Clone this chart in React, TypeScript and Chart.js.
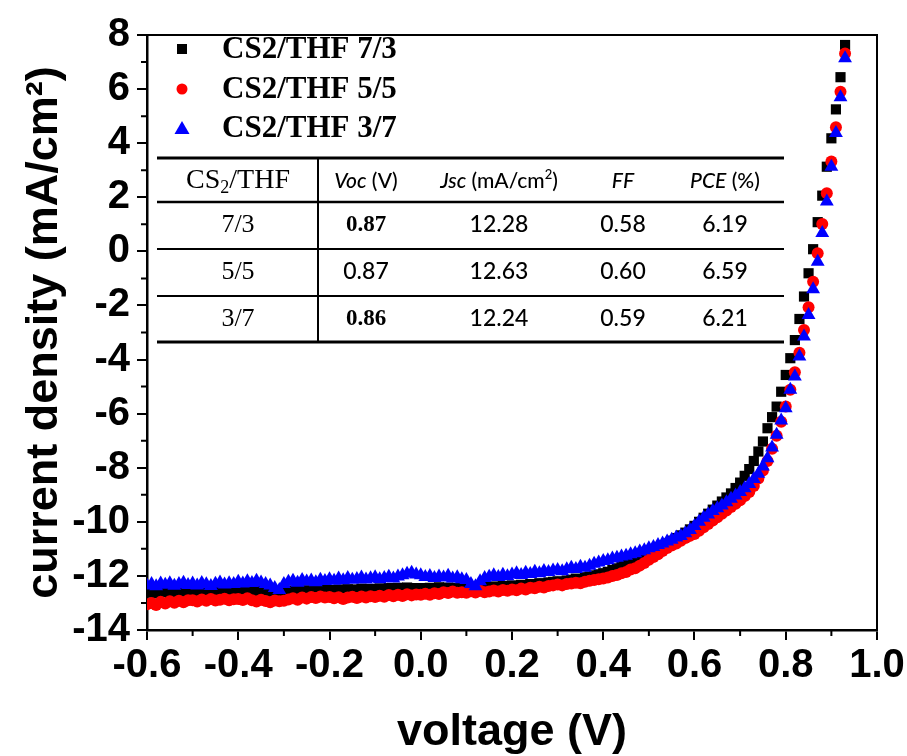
import React, { useEffect, useRef } from "react";
import { Chart, registerables } from "chart.js";

Chart.register(...registerables);

// ---- data ----
const voltage = [
  -0.60, -0.59, -0.58, -0.57, -0.56, -0.55, -0.54, -0.53, -0.52, -0.51,
  -0.50, -0.49, -0.48, -0.47, -0.46, -0.45, -0.44, -0.43, -0.42, -0.41,
  -0.40, -0.39, -0.38, -0.37, -0.36, -0.35, -0.34, -0.33, -0.32, -0.31,
  -0.30, -0.29, -0.28, -0.27, -0.26, -0.25, -0.24, -0.23, -0.22, -0.21,
  -0.20, -0.19, -0.18, -0.17, -0.16, -0.15, -0.14, -0.13, -0.12, -0.11,
  -0.10, -0.09, -0.08, -0.07, -0.06, -0.05, -0.04, -0.03, -0.02, -0.01,
  0.00, 0.01, 0.02, 0.03, 0.04, 0.05, 0.06, 0.07, 0.08, 0.09,
  0.10, 0.11, 0.12, 0.13, 0.14, 0.15, 0.16, 0.17, 0.18, 0.19,
  0.20, 0.21, 0.22, 0.23, 0.24, 0.25, 0.26, 0.27, 0.28, 0.29,
  0.30, 0.31, 0.32, 0.33, 0.34, 0.35, 0.36, 0.37, 0.38, 0.39,
  0.40, 0.41, 0.42, 0.43, 0.44, 0.45, 0.46, 0.47, 0.48, 0.49,
  0.50, 0.51, 0.52, 0.53, 0.54, 0.55, 0.56, 0.57, 0.58, 0.59,
  0.60, 0.61, 0.62, 0.63, 0.64, 0.65, 0.66, 0.67, 0.68, 0.69,
  0.70, 0.71, 0.72, 0.73, 0.74, 0.75, 0.76, 0.77, 0.78, 0.79,
  0.80, 0.81, 0.82, 0.83, 0.84, 0.85, 0.86, 0.87, 0.88, 0.89,
  0.90, 0.91, 0.92, 0.93,
];

// CS2/THF 7/3 (black squares)
const jBlack = [
  -12.62, -12.58, -12.65, -12.60, -12.56, -12.63, -12.59, -12.61, -12.57, -12.60,
  -12.58, -12.62, -12.55, -12.60, -12.57, -12.61, -12.54, -12.59, -12.56, -12.58,
  -12.55, -12.58, -12.53, -12.57, -12.60, -12.56, -12.62, -12.65, -12.60, -12.63,
  -12.57, -12.54, -12.58, -12.52, -12.56, -12.53, -12.57, -12.51, -12.55, -12.52,
  -12.52, -12.55, -12.50, -12.54, -12.49, -12.53, -12.50, -12.47, -12.52, -12.48,
  -12.50, -12.46, -12.49, -12.45, -12.48, -12.44, -12.47, -12.43, -12.46, -12.45,
  -12.45, -12.48, -12.44, -12.47, -12.42, -12.46, -12.43, -12.47, -12.44, -12.46,
  -12.45, -12.48, -12.50, -12.44, -12.40, -12.43, -12.39, -12.42, -12.37, -12.40,
  -12.35, -12.38, -12.33, -12.36, -12.30, -12.32, -12.27, -12.29, -12.24, -12.22,
  -12.20, -12.22, -12.17, -12.14, -12.10, -12.12, -12.05, -12.02, -11.98, -11.94,
  -11.90, -11.85, -11.78, -11.72, -11.64, -11.56, -11.48, -11.40, -11.32, -11.22,
  -11.10, -11.02, -10.95, -10.88, -10.80, -10.70, -10.60, -10.50, -10.40, -10.28,
  -10.15, -10.00, -9.85, -9.70, -9.55, -9.40, -9.25, -9.10, -8.95, -8.75,
  -8.55, -8.30, -8.05, -7.75, -7.40, -7.03, -6.54, -6.13, -5.74, -5.19,
  -4.57, -3.95, -3.28, -2.50, -1.67, -0.81, 0.08, 1.08, 2.06, 3.13,
  4.18, 5.25, 6.44, 7.63,
];

// CS2/THF 5/5 (red circles)
const jRed = [
  -13.05, -13.00, -13.08, -12.96, -13.02, -12.94, -12.99, -12.92, -12.97, -12.90,
  -12.90, -12.95, -12.87, -12.92, -12.85, -12.91, -12.88, -12.84, -12.90, -12.86,
  -12.85, -12.89, -12.83, -12.90, -12.95, -12.88, -12.93, -12.97, -12.91, -12.94,
  -12.92, -12.87, -12.83, -12.88, -12.80, -12.84, -12.78, -12.82, -12.76, -12.80,
  -12.78, -12.83, -12.79, -12.85, -12.80, -12.77, -12.82, -12.76, -12.80, -12.75,
  -12.78, -12.73, -12.77, -12.71, -12.75, -12.70, -12.74, -12.68, -12.72, -12.69,
  -12.70, -12.66, -12.70, -12.64, -12.67, -12.60, -12.63, -12.58, -12.62, -12.60,
  -12.62, -12.57, -12.61, -12.55, -12.60, -12.58, -12.54, -12.58, -12.52, -12.55,
  -12.50, -12.53, -12.47, -12.50, -12.44, -12.46, -12.40, -12.43, -12.37, -12.35,
  -12.32, -12.35, -12.30, -12.28, -12.25, -12.27, -12.22, -12.18, -12.15, -12.12,
  -12.10, -12.06, -12.00, -11.97, -11.90, -11.86, -11.76, -11.72, -11.62, -11.52,
  -11.40, -11.30, -11.20, -11.08, -10.97, -10.88, -10.80, -10.70, -10.60, -10.52,
  -10.45, -10.33, -10.20, -10.08, -9.95, -9.83, -9.70, -9.58, -9.45, -9.33,
  -9.20, -9.05, -8.90, -8.68, -8.40, -8.10, -7.75, -7.30, -6.82, -6.30,
  -5.74, -5.12, -4.47, -3.75, -2.91, -2.07, -1.12, -0.07, 1.01, 2.15,
  3.32, 4.59, 5.90, 7.32,
];

// CS2/THF 3/7 (blue triangles)
const jBlue = [
  -12.35, -12.30, -12.38, -12.28, -12.33, -12.27, -12.36, -12.30, -12.25, -12.34,
  -12.28, -12.35, -12.26, -12.31, -12.37, -12.29, -12.24, -12.32, -12.27, -12.30,
  -12.22, -12.28, -12.20, -12.26, -12.18, -12.24, -12.30, -12.35, -12.45, -12.52,
  -12.30, -12.22, -12.18, -12.25, -12.15, -12.21, -12.17, -12.23, -12.14, -12.19,
  -12.12, -12.18, -12.10, -12.16, -12.08, -12.14, -12.11, -12.06, -12.13, -12.09,
  -12.05, -12.12, -12.08, -12.03, -12.10, -12.02, -11.98, -11.92, -11.88, -11.95,
  -11.98, -12.04, -12.00, -12.08, -12.02, -12.06, -11.99, -12.10, -12.05, -12.12,
  -12.15, -12.30, -12.38, -12.20, -12.08, -12.03, -11.98, -12.04, -11.96, -12.01,
  -11.95, -11.90, -11.97, -11.88, -11.93, -11.85, -11.90, -11.82, -11.86, -11.80,
  -11.78, -11.83, -11.75, -11.70, -11.74, -11.66, -11.70, -11.62, -11.55, -11.50,
  -11.45, -11.42, -11.36, -11.33, -11.28, -11.25, -11.20, -11.16, -11.10, -11.05,
  -10.98, -10.93, -10.86, -10.80, -10.73, -10.66, -10.58, -10.52, -10.42, -10.30,
  -10.15, -10.00, -9.85, -9.73, -9.60, -9.50, -9.40, -9.28, -9.15, -9.03,
  -8.90, -8.76, -8.60, -8.42, -8.22, -7.95, -7.65, -7.25, -6.78, -6.25,
  -5.80, -5.12, -4.63, -3.89, -3.15, -2.35, -1.40, -0.38, 0.68, 1.84,
  3.13, 4.38, 5.70, 7.14,
];

const seriesLabels = ["CS2/THF 7/3", "CS2/THF 5/5", "CS2/THF 3/7"];
const seriesColors = ["#000000", "#ff0000", "#0000ff"];

const yMinorTicks = [7, 5, 3, 1, -1, -3, -5, -7, -9, -11, -13];
const xMinorTicks = [-0.5, -0.3, -0.1, 0.1, 0.3, 0.5, 0.7, 0.9];

const tableRows = [
  ["7/3", "0.87", "12.28", "0.58", "6.19"],
  ["5/5", "0.87", "12.63", "0.60", "6.59"],
  ["3/7", "0.86", "12.24", "0.59", "6.21"],
];

const SANS = '"Liberation Sans", Arial, Helvetica, sans-serif';
const SERIF = '"Liberation Serif", "Times New Roman", serif';
const TSANS = 'Lato, "Open Sans", "Noto Sans", sans-serif';

type Part = { t: string; f: string; dy?: number };

function drawRich(ctx: CanvasRenderingContext2D, parts: Part[], cx: number, cy: number) {
  let total = 0;
  for (const p of parts) {
    ctx.font = p.f;
    total += ctx.measureText(p.t).width;
  }
  let x = cx - total / 2;
  ctx.textAlign = "left";
  ctx.textBaseline = "middle";
  for (const p of parts) {
    ctx.font = p.f;
    ctx.fillText(p.t, x, cy + (p.dy || 0));
    x += ctx.measureText(p.t).width;
  }
}

const decoPlugin = {
  id: "deco",
  afterDraw(chart: any) {
    const { ctx, chartArea: a, scales } = chart;
    const xs = scales.x;
    const ys = scales.y;
    ctx.save();
    ctx.strokeStyle = "#000";
    ctx.fillStyle = "#000";

    // frame (top and right)
    ctx.lineWidth = 2;
    ctx.beginPath();
    ctx.moveTo(a.left, a.top);
    ctx.lineTo(a.right, a.top);
    ctx.lineTo(a.right, a.bottom);
    ctx.stroke();

    // minor ticks
    ctx.lineWidth = 2;
    ctx.beginPath();
    for (const v of yMinorTicks) {
      const py = ys.getPixelForValue(v);
      ctx.moveTo(a.left - 6, py);
      ctx.lineTo(a.left, py);
    }
    for (const v of xMinorTicks) {
      const px = xs.getPixelForValue(v);
      ctx.moveTo(px, a.bottom);
      ctx.lineTo(px, a.bottom + 6);
    }
    ctx.stroke();

    // legend
    const legX = 182;
    const legY = [49, 89, 128];
    ctx.fillStyle = seriesColors[0];
    ctx.fillRect(legX - 5, legY[0] - 5, 10, 10);
    ctx.fillStyle = seriesColors[1];
    ctx.beginPath();
    ctx.arc(legX, legY[1], 5.5, 0, Math.PI * 2);
    ctx.fill();
    ctx.fillStyle = seriesColors[2];
    ctx.beginPath();
    ctx.moveTo(legX, legY[2] - 7);
    ctx.lineTo(legX + 7.5, legY[2] + 6);
    ctx.lineTo(legX - 7.5, legY[2] + 6);
    ctx.closePath();
    ctx.fill();
    ctx.fillStyle = "#000";
    ctx.font = `bold 31px ${SERIF}`;
    ctx.textAlign = "left";
    ctx.textBaseline = "middle";
    seriesLabels.forEach((s, i) => ctx.fillText(s, 222, legY[i] + 1));

    // table
    const tl = 157, tr = 784;
    const lines = [158, 202, 249, 296, 342];
    const widths = [3, 2.5, 2, 2, 3];
    lines.forEach((ly, i) => {
      ctx.lineWidth = widths[i];
      ctx.beginPath();
      ctx.moveTo(tl, ly);
      ctx.lineTo(tr, ly);
      ctx.stroke();
    });
    ctx.lineWidth = 2;
    ctx.beginPath();
    ctx.moveTo(318, lines[0]);
    ctx.lineTo(318, lines[4]);
    ctx.stroke();

    const cols = [238, 366, 499, 623, 725];
    const hy = 181;
    const hs = 21;
    const sansN = `500 ${hs}px ${TSANS}`;
    const sansI = `italic 500 ${hs}px ${TSANS}`;
    drawRich(ctx, [
      { t: "CS", f: `28px ${SERIF}` },
      { t: "2", f: `18px ${SERIF}`, dy: 7 },
      { t: "/THF", f: `28px ${SERIF}` },
    ], cols[0], hy);
    drawRich(ctx, [{ t: "Voc", f: sansI }, { t: " (V)", f: sansN }], cols[1], hy);
    drawRich(ctx, [
      { t: "Jsc", f: sansI },
      { t: " (mA/cm", f: sansN },
      { t: "2", f: `500 13px ${TSANS}`, dy: -6 },
      { t: ")", f: sansN },
    ], cols[2], hy);
    drawRich(ctx, [{ t: "FF", f: sansI }], cols[3], hy);
    drawRich(ctx, [{ t: "PCE", f: sansI }, { t: " (%)", f: sansN }], cols[4], hy);

    const rowY = [225, 272, 319];
    tableRows.forEach((row, r) => {
      row.forEach((cell, c) => {
        let f = `500 23px ${TSANS}`;
        if (c === 0) f = `26px ${SERIF}`;
        else if (c === 1 && r !== 1) f = `bold 23px ${SERIF}`;
        drawRich(ctx, [{ t: cell, f }], cols[c], rowY[r]);
      });
    });

    ctx.restore();
  },
};

export default function App() {
  const ref = useRef<HTMLCanvasElement | null>(null);

  useEffect(() => {
    document.body.style.margin = "0";
    const canvas = ref.current;
    if (!canvas) return;
    const mk = (arr: number[]) => voltage.map((v, i) => ({ x: v, y: arr[i] }));
    const tickFont = { family: SANS, size: 40, weight: "bold" as const };
    const titleFont = { family: SANS, size: 45, weight: "bold" as const, lineHeight: 1 };
    const chart = new Chart(canvas, {
      type: "scatter",
      data: {
        datasets: [
          {
            label: seriesLabels[0],
            data: mk(jBlack),
            pointStyle: "rect",
            pointRadius: 7.2,
            backgroundColor: seriesColors[0],
            borderColor: seriesColors[0],
            borderWidth: 0,
            order: 3,
          },
          {
            label: seriesLabels[1],
            data: mk(jRed),
            pointStyle: "circle",
            pointRadius: 6,
            backgroundColor: seriesColors[1],
            borderColor: seriesColors[1],
            borderWidth: 0,
            order: 2,
          },
          {
            label: seriesLabels[2],
            data: mk(jBlue),
            pointStyle: "triangle",
            pointRadius: 8,
            backgroundColor: seriesColors[2],
            borderColor: seriesColors[2],
            borderWidth: 0,
            order: 1,
          },
        ],
      },
      options: {
        responsive: false,
        animation: false,
        events: [],
        layout: { padding: { top: 35, right: 30, left: 0, bottom: 0 } },
        plugins: { legend: { display: false }, tooltip: { enabled: false } },
        scales: {
          x: {
            type: "linear",
            min: -0.6,
            max: 1.0,
            afterFit: (s: any) => {
              s.height = 126;
            },
            ticks: {
              stepSize: 0.2,
              autoSkip: false,
              maxRotation: 0,
              padding: 2,
              color: "#000",
              font: tickFont,
              callback: (v: any) => (Math.abs(Number(v)) < 1e-9 ? "0.0" : Number(v).toFixed(1)),
            },
            grid: { drawOnChartArea: false, drawTicks: true, tickLength: 10, color: "#000", lineWidth: 2 },
            border: { display: true, color: "#000", width: 2.5 },
            title: {
              display: true,
              text: "voltage (V)",
              color: "#000",
              font: titleFont,
              padding: { top: 0, bottom: 1 },
            },
          },
          y: {
            type: "linear",
            min: -14,
            max: 8,
            afterFit: (s: any) => {
              s.width = 147;
            },
            ticks: {
              stepSize: 2,
              autoSkip: false,
              padding: 7,
              color: "#000",
              font: tickFont,
            },
            grid: { drawOnChartArea: false, drawTicks: true, tickLength: 10, color: "#000", lineWidth: 2 },
            border: { display: true, color: "#000", width: 2.5 },
            title: {
              display: true,
              text: "current density (mA/cm²)",
              color: "#000",
              font: titleFont,
              padding: { top: 22, bottom: 0 },
            },
          },
        },
      },
      plugins: [decoPlugin],
    } as any);
    return () => chart.destroy();
  }, []);

  return (
    <div style={{ position: "relative", width: 907, height: 756, background: "#fff" }}>
      <canvas ref={ref} width={907} height={756} style={{ display: "block" }} />
    </div>
  );
}
